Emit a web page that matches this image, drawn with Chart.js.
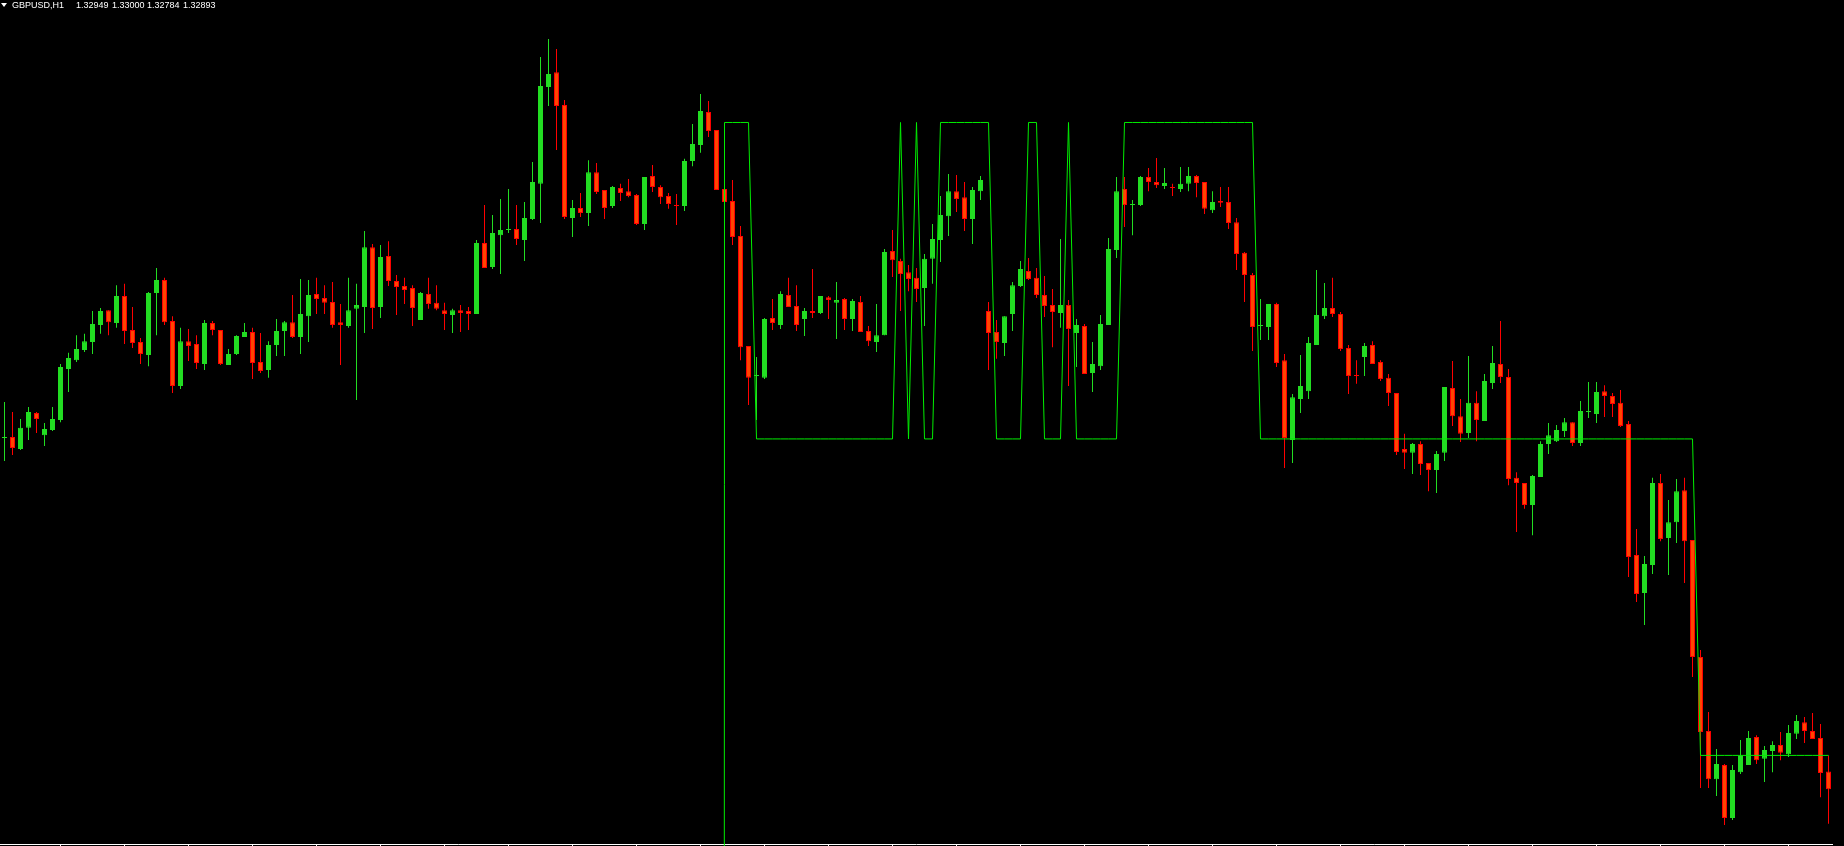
<!DOCTYPE html>
<html>
<head>
<meta charset="utf-8">
<title>GBPUSD,H1</title>
<script src="https://cdn.jsdelivr.net/npm/chart.js@4.4.1/dist/chart.umd.min.js"></script>
<style>
  html, body { margin: 0; padding: 0; background: #000; overflow: hidden; }
  #wrap { position: relative; width: 1844px; height: 846px; }
  #title { position: absolute; left: 0; top: 0; width: 260px; height: 12px; color: #fff;
           font-family: "Liberation Sans", Arial, sans-serif; font-size: 9px; line-height: 11px; }
  #title span { position: absolute; top: 0; white-space: nowrap; }
  #title .tri { left: 1px; top: 3px; width: 0; height: 0;
                border-left: 3px solid transparent; border-right: 3px solid transparent; border-top: 4px solid #fff; }
</style>
</head>
<body>
<div id="wrap">
  <canvas id="chart" width="1844" height="846"></canvas>
  <div id="title"></div>
</div>
<script>
// GBPUSD H1 candles, oldest first
const symbol = 'GBPUSD,H1';

const opens = [
  1.34003, 1.34006, 1.33968, 1.34035, 1.34082, 1.34012, 1.34028, 1.34060, 1.34221, 1.34249,
  1.34281, 1.34306, 1.34360, 1.34407, 1.34366, 1.34452, 1.34344, 1.34306, 1.34265, 1.34461,
  1.34502, 1.34373, 1.34167, 1.34309, 1.34300, 1.34237, 1.34366, 1.34344, 1.34234, 1.34268,
  1.34322, 1.34338, 1.34243, 1.34218, 1.34297, 1.34341, 1.34369, 1.34322, 1.34388, 1.34458,
  1.34445, 1.34433, 1.34369, 1.34357, 1.34411, 1.34417, 1.34606, 1.34417, 1.34578, 1.34499,
  1.34483, 1.34477, 1.34376, 1.34458, 1.34430, 1.34407, 1.34392, 1.34407, 1.34404, 1.34395,
  1.34619, 1.34543, 1.34644, 1.34660, 1.34663, 1.34629, 1.34695, 1.34806, 1.35112, 1.35159,
  1.35055, 1.34698, 1.34730, 1.34714, 1.34843, 1.34787, 1.34736, 1.34793, 1.34783, 1.34771,
  1.34679, 1.34831, 1.34796, 1.34768, 1.34739, 1.34736, 1.34878, 1.34929, 1.35033, 1.34976,
  1.34790, 1.34752, 1.34641, 1.34294, 1.34199, 1.34193, 1.34382, 1.34360, 1.34455, 1.34420,
  1.34379, 1.34404, 1.34398, 1.34448, 1.34430, 1.34442, 1.34379, 1.34433, 1.34341, 1.34306,
  1.34328, 1.34594, 1.34562, 1.34527, 1.34509, 1.34477, 1.34569, 1.34629, 1.34704, 1.34783,
  1.34764, 1.34695, 1.34783, 1.34404, 1.34338, 1.34303, 1.34395, 1.34483, 1.34531, 1.34509,
  1.34455, 1.34423, 1.34398, 1.34423, 1.34335, 1.34357, 1.34208, 1.34230, 1.34360, 1.34597,
  1.34790, 1.34739, 1.34739, 1.34828, 1.34812, 1.34799, 1.34796, 1.34790, 1.34806, 1.34831,
  1.34812, 1.34723, 1.34752, 1.34749, 1.34685, 1.34588, 1.34518, 1.34357, 1.34354, 1.34426,
  1.34249, 1.33997, 1.34126, 1.34151, 1.34297, 1.34388, 1.34414, 1.34395, 1.34287, 1.34202,
  1.34259, 1.34297, 1.34243, 1.34193, 1.34145, 1.33968, 1.33956, 1.33984, 1.33924, 1.33902,
  1.33956, 1.34161, 1.34072, 1.34019, 1.34114, 1.34057, 1.34177, 1.34237, 1.34196, 1.33877,
  1.33861, 1.33791, 1.33880, 1.33984, 1.33993, 1.34025, 1.34053, 1.33987, 1.34085, 1.34079,
  1.34151, 1.34136, 1.34114, 1.34047, 1.33633, 1.33513, 1.33602, 1.33861, 1.33687, 1.33737,
  1.33838, 1.33681, 1.33311, 1.33077, 1.32925, 1.32970, 1.32802, 1.32947, 1.32970, 1.33058,
  1.32989, 1.33014, 1.33033, 1.33004, 1.33068, 1.33105, 1.33077, 1.33055, 1.32949
];

const highs = [
  1.34117, 1.34085, 1.34063, 1.34101, 1.34085, 1.34050, 1.34101, 1.34237, 1.34272, 1.34328,
  1.34332, 1.34404, 1.34414, 1.34407, 1.34486, 1.34490, 1.34417, 1.34319, 1.34464, 1.34540,
  1.34509, 1.34388, 1.34351, 1.34347, 1.34328, 1.34376, 1.34373, 1.34344, 1.34284, 1.34328,
  1.34366, 1.34351, 1.34335, 1.34309, 1.34379, 1.34373, 1.34455, 1.34505, 1.34502, 1.34509,
  1.34486, 1.34496, 1.34426, 1.34509, 1.34490, 1.34657, 1.34616, 1.34613, 1.34625, 1.34518,
  1.34509, 1.34486, 1.34464, 1.34509, 1.34486, 1.34430, 1.34411, 1.34423, 1.34417, 1.34629,
  1.34739, 1.34708, 1.34758, 1.34790, 1.34739, 1.34749, 1.34875, 1.35207, 1.35264, 1.35232,
  1.35071, 1.34755, 1.34777, 1.34881, 1.34872, 1.34787, 1.34799, 1.34806, 1.34821, 1.34774,
  1.34828, 1.34866, 1.34802, 1.34777, 1.34774, 1.34885, 1.34995, 1.35090, 1.35068, 1.34976,
  1.34790, 1.34818, 1.34673, 1.34294, 1.34259, 1.34382, 1.34442, 1.34467, 1.34509, 1.34486,
  1.34414, 1.34537, 1.34452, 1.34452, 1.34496, 1.34445, 1.34442, 1.34452, 1.34357, 1.34426,
  1.34600, 1.34660, 1.34569, 1.34550, 1.34540, 1.34584, 1.34679, 1.34768, 1.34837, 1.34834,
  1.34812, 1.34796, 1.34831, 1.34433, 1.34376, 1.34388, 1.34496, 1.34562, 1.34572, 1.34540,
  1.34515, 1.34474, 1.34632, 1.34439, 1.34379, 1.34363, 1.34306, 1.34392, 1.34635, 1.34828,
  1.34828, 1.34755, 1.34831, 1.34856, 1.34888, 1.34856, 1.34806, 1.34859, 1.34859, 1.34834,
  1.34812, 1.34783, 1.34796, 1.34796, 1.34698, 1.34591, 1.34524, 1.34442, 1.34426, 1.34430,
  1.34268, 1.34142, 1.34265, 1.34322, 1.34534, 1.34493, 1.34509, 1.34401, 1.34297, 1.34249,
  1.34303, 1.34309, 1.34249, 1.34205, 1.34145, 1.34016, 1.33987, 1.33993, 1.33924, 1.33962,
  1.34164, 1.34246, 1.34126, 1.34262, 1.34151, 1.34205, 1.34294, 1.34373, 1.34221, 1.33895,
  1.33861, 1.33886, 1.33993, 1.34050, 1.34044, 1.34066, 1.34053, 1.34120, 1.34180, 1.34180,
  1.34170, 1.34145, 1.34155, 1.34057, 1.33715, 1.33630, 1.33877, 1.33889, 1.33807, 1.33873,
  1.33877, 1.33681, 1.33333, 1.33137, 1.33020, 1.32973, 1.32970, 1.33049, 1.33077, 1.33064,
  1.33030, 1.33045, 1.33074, 1.33096, 1.33128, 1.33121, 1.33134, 1.33099, 1.33000
];

const lows = [
  1.33930, 1.33949, 1.33965, 1.33997, 1.34019, 1.33978, 1.34025, 1.34053, 1.34148, 1.34243,
  1.34275, 1.34268, 1.34332, 1.34328, 1.34351, 1.34300, 1.34287, 1.34237, 1.34230, 1.34328,
  1.34360, 1.34145, 1.34158, 1.34246, 1.34221, 1.34218, 1.34328, 1.34234, 1.34234, 1.34265,
  1.34322, 1.34189, 1.34208, 1.34193, 1.34262, 1.34262, 1.34319, 1.34268, 1.34306, 1.34395,
  1.34395, 1.34351, 1.34234, 1.34351, 1.34123, 1.34335, 1.34347, 1.34382, 1.34483, 1.34392,
  1.34426, 1.34357, 1.34376, 1.34411, 1.34407, 1.34344, 1.34335, 1.34338, 1.34344, 1.34395,
  1.34540, 1.34537, 1.34521, 1.34651, 1.34613, 1.34562, 1.34692, 1.34682, 1.35052, 1.34913,
  1.34695, 1.34638, 1.34701, 1.34673, 1.34774, 1.34695, 1.34730, 1.34752, 1.34764, 1.34676,
  1.34660, 1.34780, 1.34742, 1.34727, 1.34676, 1.34720, 1.34862, 1.34904, 1.34954, 1.34787,
  1.34749, 1.34613, 1.34249, 1.34107, 1.34060, 1.34189, 1.34344, 1.34347, 1.34417, 1.34341,
  1.34325, 1.34382, 1.34395, 1.34379, 1.34316, 1.34344, 1.34341, 1.34338, 1.34294, 1.34275,
  1.34328, 1.34512, 1.34404, 1.34467, 1.34433, 1.34357, 1.34490, 1.34559, 1.34641, 1.34717,
  1.34657, 1.34616, 1.34755, 1.34218, 1.34253, 1.34262, 1.34341, 1.34480, 1.34502, 1.34445,
  1.34385, 1.34290, 1.34351, 1.34167, 1.34227, 1.34205, 1.34148, 1.34218, 1.34360, 1.34572,
  1.34670, 1.34644, 1.34736, 1.34783, 1.34793, 1.34790, 1.34768, 1.34780, 1.34783, 1.34764,
  1.34711, 1.34714, 1.34733, 1.34663, 1.34534, 1.34433, 1.34278, 1.34313, 1.34313, 1.34227,
  1.33908, 1.33924, 1.34082, 1.34126, 1.34297, 1.34379, 1.34385, 1.34278, 1.34142, 1.34174,
  1.34199, 1.34237, 1.34183, 1.34104, 1.33949, 1.33905, 1.33889, 1.33886, 1.33835, 1.33829,
  1.33930, 1.34041, 1.33990, 1.34003, 1.33993, 1.34057, 1.34158, 1.34177, 1.33854, 1.33706,
  1.33779, 1.33696, 1.33880, 1.33952, 1.33990, 1.34006, 1.33978, 1.33978, 1.34066, 1.34050,
  1.34069, 1.34069, 1.34038, 1.33564, 1.33485, 1.33412, 1.33573, 1.33677, 1.33570, 1.33671,
  1.33545, 1.33248, 1.32897, 1.32897, 1.32872, 1.32780, 1.32796, 1.32941, 1.32970, 1.32973,
  1.32916, 1.32947, 1.32985, 1.32995, 1.33052, 1.33039, 1.33052, 1.32868, 1.32784
];

const closes = [
  1.34003, 1.33971, 1.34035, 1.34085, 1.34063, 1.34031, 1.34063, 1.34227, 1.34256, 1.34284,
  1.34309, 1.34363, 1.34404, 1.34369, 1.34452, 1.34341, 1.34303, 1.34268, 1.34461, 1.34502,
  1.34369, 1.34167, 1.34309, 1.34294, 1.34240, 1.34366, 1.34344, 1.34237, 1.34268, 1.34325,
  1.34338, 1.34240, 1.34215, 1.34297, 1.34341, 1.34369, 1.34322, 1.34395, 1.34455, 1.34442,
  1.34430, 1.34360, 1.34360, 1.34407, 1.34423, 1.34606, 1.34414, 1.34575, 1.34499, 1.34480,
  1.34471, 1.34414, 1.34461, 1.34426, 1.34411, 1.34395, 1.34407, 1.34398, 1.34395, 1.34619,
  1.34540, 1.34651, 1.34660, 1.34660, 1.34632, 1.34698, 1.34812, 1.35115, 1.35153, 1.35052,
  1.34701, 1.34730, 1.34714, 1.34843, 1.34780, 1.34730, 1.34796, 1.34777, 1.34768, 1.34679,
  1.34828, 1.34796, 1.34764, 1.34742, 1.34736, 1.34878, 1.34932, 1.35036, 1.34973, 1.34787,
  1.34749, 1.34638, 1.34290, 1.34193, 1.34199, 1.34379, 1.34366, 1.34458, 1.34417, 1.34360,
  1.34404, 1.34398, 1.34452, 1.34439, 1.34439, 1.34379, 1.34436, 1.34338, 1.34309, 1.34328,
  1.34591, 1.34565, 1.34521, 1.34505, 1.34474, 1.34569, 1.34632, 1.34708, 1.34783, 1.34758,
  1.34695, 1.34787, 1.34818, 1.34335, 1.34306, 1.34388, 1.34486, 1.34537, 1.34505, 1.34455,
  1.34420, 1.34401, 1.34423, 1.34347, 1.34360, 1.34205, 1.34237, 1.34363, 1.34600, 1.34783,
  1.34739, 1.34739, 1.34828, 1.34812, 1.34802, 1.34809, 1.34793, 1.34806, 1.34831, 1.34809,
  1.34727, 1.34749, 1.34746, 1.34682, 1.34584, 1.34518, 1.34354, 1.34357, 1.34426, 1.34240,
  1.34003, 1.34132, 1.34167, 1.34303, 1.34392, 1.34414, 1.34395, 1.34284, 1.34199, 1.34199,
  1.34294, 1.34237, 1.34189, 1.34145, 1.33959, 1.33956, 1.33984, 1.33921, 1.33902, 1.33952,
  1.34164, 1.34072, 1.34016, 1.34114, 1.34060, 1.34183, 1.34240, 1.34196, 1.33873, 1.33861,
  1.33791, 1.33883, 1.33984, 1.34012, 1.34028, 1.34053, 1.33987, 1.34088, 1.34085, 1.34148,
  1.34136, 1.34110, 1.34041, 1.33627, 1.33510, 1.33605, 1.33861, 1.33684, 1.33737, 1.33835,
  1.33677, 1.33311, 1.33074, 1.32925, 1.32973, 1.32802, 1.32954, 1.32998, 1.33055, 1.32985,
  1.33017, 1.33033, 1.33008, 1.33071, 1.33109, 1.33077, 1.33052, 1.32944, 1.32893
];

// indicator buffer (round-number level), empty before bar 89, 0 at bar 89
const signal = [
  null, null, null, null, null, null, null, null, null, null,
  null, null, null, null, null, null, null, null, null, null,
  null, null, null, null, null, null, null, null, null, null,
  null, null, null, null, null, null, null, null, null, null,
  null, null, null, null, null, null, null, null, null, null,
  null, null, null, null, null, null, null, null, null, null,
  null, null, null, null, null, null, null, null, null, null,
  null, null, null, null, null, null, null, null, null, null,
  null, null, null, null, null, null, null, null, null, 0,
  1.35, 1.35, 1.35, 1.35, 1.34, 1.34, 1.34, 1.34, 1.34, 1.34,
  1.34, 1.34, 1.34, 1.34, 1.34, 1.34, 1.34, 1.34, 1.34, 1.34,
  1.34, 1.34, 1.35, 1.34, 1.35, 1.34, 1.34, 1.35, 1.35, 1.35,
  1.35, 1.35, 1.35, 1.35, 1.34, 1.34, 1.34, 1.34, 1.35, 1.35,
  1.34, 1.34, 1.34, 1.35, 1.34, 1.34, 1.34, 1.34, 1.34, 1.34,
  1.35, 1.35, 1.35, 1.35, 1.35, 1.35, 1.35, 1.35, 1.35, 1.35,
  1.35, 1.35, 1.35, 1.35, 1.35, 1.35, 1.35, 1.34, 1.34, 1.34,
  1.34, 1.34, 1.34, 1.34, 1.34, 1.34, 1.34, 1.34, 1.34, 1.34,
  1.34, 1.34, 1.34, 1.34, 1.34, 1.34, 1.34, 1.34, 1.34, 1.34,
  1.34, 1.34, 1.34, 1.34, 1.34, 1.34, 1.34, 1.34, 1.34, 1.34,
  1.34, 1.34, 1.34, 1.34, 1.34, 1.34, 1.34, 1.34, 1.34, 1.34,
  1.34, 1.34, 1.34, 1.34, 1.34, 1.34, 1.34, 1.34, 1.34, 1.34,
  1.34, 1.34, 1.33, 1.33, 1.33, 1.33, 1.33, 1.33, 1.33, 1.33,
  1.33, 1.33, 1.33, 1.33, 1.33, 1.33, 1.33, 1.33, 1.33
];

const BULL = '#22dd22';
const BEAR_FILL = '#ff4500';
const BEAR = '#ff0000';
const LEVEL = '#00ee00';

// header line like the terminal: symbol + last bar OHLC
const last = opens.length - 1;
const header = [
  { text: symbol, left: 12 },
  { text: opens[last].toFixed(5), left: 76 },
  { text: highs[last].toFixed(5), left: 112 },
  { text: lows[last].toFixed(5), left: 147 },
  { text: closes[last].toFixed(5), left: 183 }
];
const titleDiv = document.getElementById('title');
titleDiv.innerHTML = '<span class="tri"></span>' +
  header.map(h => `<span style="left:${h.left}px">${h.text}</span>`).join('');

const labels = opens.map((_, i) => i);
const bodies = opens.map((o, i) => [o, closes[i]]);
const wicks = lows.map((l, i) => [l, highs[i]]);
const isUp = i => closes[i] >= opens[i];

new Chart(document.getElementById('chart').getContext('2d'), {
  type: 'bar',
  data: {
    labels: labels,
    datasets: [
      {
        type: 'line',
        data: signal,
        borderColor: LEVEL,
        borderWidth: 1,
        pointRadius: 0,
        tension: 0,
        clip: false,
        order: 0
      },
      {
        data: bodies,
        grouped: false,
        barThickness: 5,
        minBarLength: 1,
        inflateAmount: 0,
        borderWidth: 1,
        borderSkipped: false,
        backgroundColor: c => isUp(c.dataIndex) ? BULL : BEAR_FILL,
        borderColor: c => isUp(c.dataIndex) ? BULL : BEAR,
        order: 1
      },
      {
        data: wicks,
        grouped: false,
        barThickness: 1,
        inflateAmount: 0,
        borderWidth: 0,
        backgroundColor: c => isUp(c.dataIndex) ? BULL : BEAR,
        order: 2
      }
    ]
  },
  options: {
    responsive: false,
    animation: false,
    events: [],
    layout: { padding: { left: 0.5, right: 11.5, top: 0, bottom: 0 } },
    plugins: { legend: { display: false }, tooltip: { enabled: false } },
    scales: {
      x: {
        offset: true,
        ticks: { display: false },
        grid: {
          offset: false,
          drawOnChartArea: false,
          drawTicks: true,
          tickLength: 2,
          color: c => (c.index % 8 === 7 ? '#ffffff' : 'rgba(0,0,0,0)')
        },
        border: { display: true, color: '#ffffff', width: 1 }
      },
      y: { display: false, min: 1.32720, max: 1.35387 }
    }
  }
});
</script>
</body>
</html>
